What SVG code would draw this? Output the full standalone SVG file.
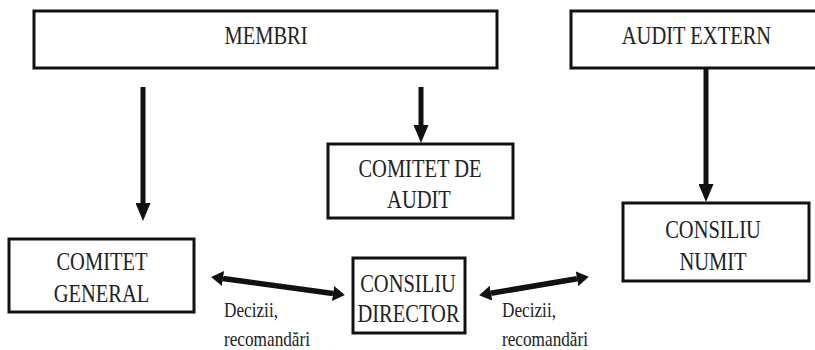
<svg xmlns="http://www.w3.org/2000/svg" width="815" height="350" viewBox="0 0 815 350">
<style>
.box{fill:#fff;stroke:#111;stroke-width:3}
.v{stroke:#111;stroke-width:5;fill:none}
.d{stroke:#111;stroke-width:5.5;fill:none}
text{font-family:"Liberation Serif","Tinos","DejaVu Serif",serif;fill:#222}
.t{font-size:25px;text-anchor:middle}
.l{font-size:21px}
</style>
<defs>
<marker id="ah" markerUnits="userSpaceOnUse" markerWidth="18" markerHeight="15" refX="0" refY="7.5" orient="auto"><path d="M0,0 L18,7.5 L0,15 z" fill="#111"/></marker>
<marker id="dh" markerUnits="userSpaceOnUse" markerWidth="12" markerHeight="15" refX="0" refY="7.5" orient="auto-start-reverse"><path d="M0,0 L12,7.5 L0,15 z" fill="#111"/></marker>
</defs>
<rect width="815" height="350" fill="#fff"/>
<g id="membri"><rect class="box" x="34" y="11" width="463" height="57"/><text class="t" transform="translate(266 44) scale(0.82 1)">MEMBRI</text></g>
<g id="audit-extern"><rect class="box" x="571" y="11" width="250" height="57"/><text class="t" transform="translate(696.5 44) scale(0.82 1)">AUDIT EXTERN</text></g>
<g id="comitet-audit"><rect class="box" x="328" y="144" width="185" height="74"/><text class="t" transform="translate(420 177) scale(0.82 1)">COMITET DE</text><text class="t" transform="translate(419 208) scale(0.82 1)">AUDIT</text></g>
<g id="consiliu-numit"><rect class="box" x="623" y="203" width="186" height="78"/><text class="t" transform="translate(713 238) scale(0.82 1)">CONSILIU</text><text class="t" transform="translate(713 270) scale(0.82 1)">NUMIT</text></g>
<g id="comitet-general"><rect class="box" x="9" y="239" width="185" height="73"/><text class="t" transform="translate(102 270) scale(0.82 1)">COMITET</text><text class="t" transform="translate(101.5 302) scale(0.82 1)">GENERAL</text></g>
<g id="consiliu-director"><rect class="box" x="353" y="258" width="112" height="75"/><text class="t" transform="translate(408 292) scale(0.82 1)">CONSILIU</text><text class="t" transform="translate(408.5 322) scale(0.82 1)">DIRECTOR</text></g>
<g id="connectors">
<line class="v" x1="143" y1="87" x2="143" y2="203" marker-end="url(#ah)"/>
<line class="v" x1="421" y1="87" x2="421" y2="125" marker-end="url(#ah)"/>
<line class="v" x1="706" y1="68" x2="706" y2="184" marker-end="url(#ah)"/>
<line class="d" x1="223" y1="278.5" x2="333" y2="293.5" marker-start="url(#dh)" marker-end="url(#dh)"/>
<line class="d" x1="491" y1="293.2" x2="577" y2="278.8" marker-start="url(#dh)" marker-end="url(#dh)"/>
</g>
<g id="labels">
<text class="l" transform="translate(224 317) scale(0.82 1)">Decizii,</text>
<text class="l" transform="translate(224 346) scale(0.82 1)">recomandări</text>
<text class="l" transform="translate(502 317) scale(0.82 1)">Decizii,</text>
<text class="l" transform="translate(502 346) scale(0.82 1)">recomandări</text>
</g>
</svg>
